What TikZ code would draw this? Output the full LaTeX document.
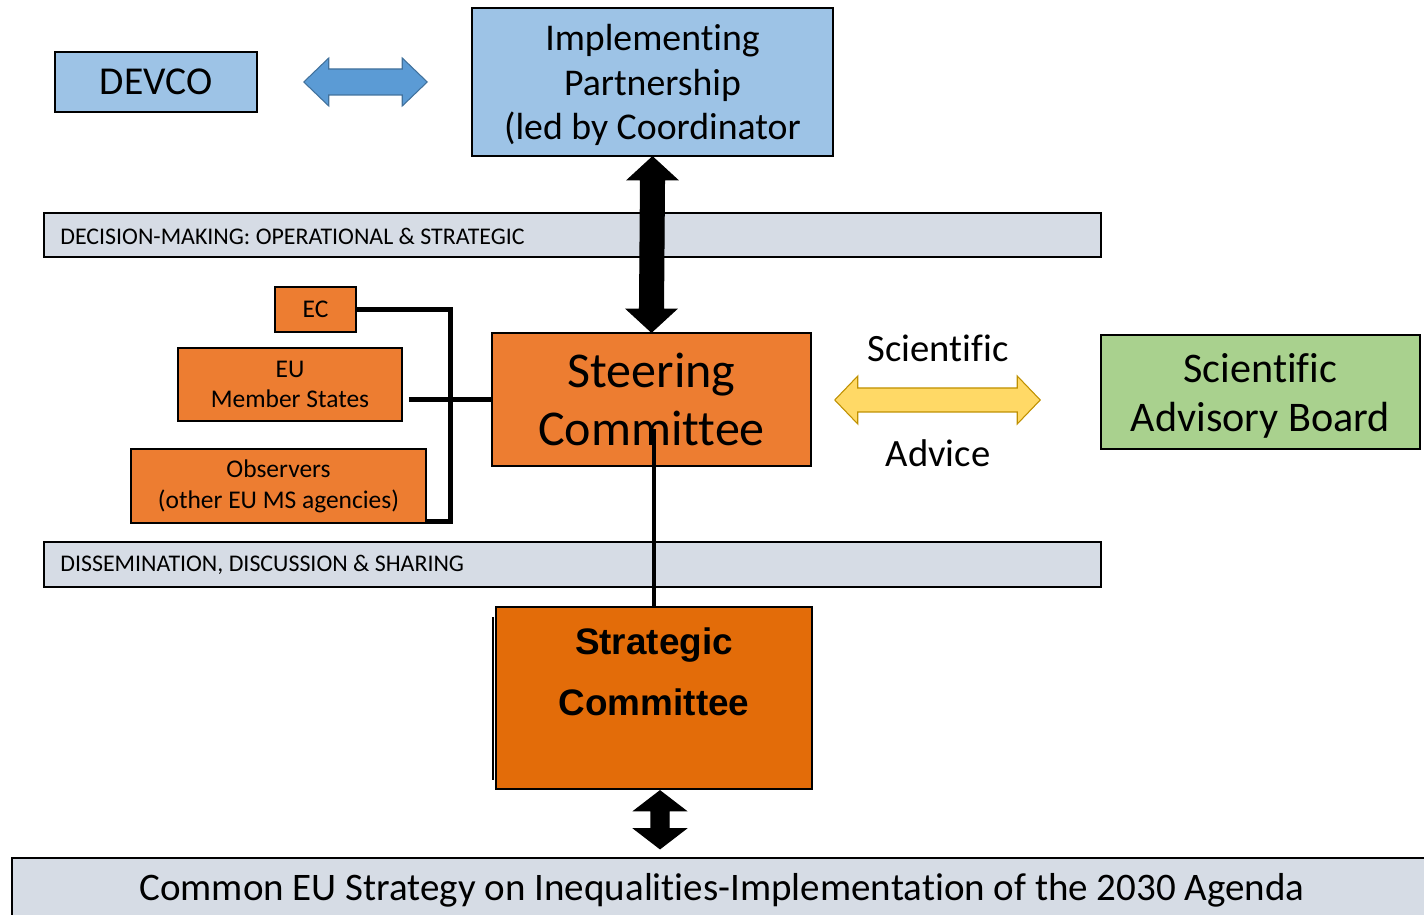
\documentclass[tikz,border=0pt]{standalone}
\usepackage{fontspec}
\setmainfont{Carlito}[Ligatures=NoCommon]
\newfontfamily\arialfont{Liberation Sans}
\usetikzlibrary{calc}
\definecolor{boxblue}{HTML}{9DC3E6}
\definecolor{arrblue}{HTML}{5B9BD5}
\definecolor{arrblueb}{HTML}{41719C}
\definecolor{bandgray}{HTML}{D6DCE5}
\definecolor{orange1}{HTML}{ED7D31}
\definecolor{orange2}{HTML}{E36C09}
\definecolor{green1}{HTML}{A9D18E}
\definecolor{yel}{HTML}{FFD966}
\definecolor{yelb}{HTML}{BF9000}
% horizontal double arrow: style, A, B, head length, head half, shaft half
\newcommand\hdarr[6]{\path[#1] (#2) -- ++(#4,-#5) -- ++(0,{#5-#6}) -- ($(#3)+(-#4,-#6)$) -- ++(0,{-(#5-#6)}) -- (#3) -- ++(-#4,#5) -- ++(0,{-(#5-#6)}) -- ($(#2)+(#4,#6)$) -- ++(0,{#5-#6}) -- cycle;}
% vertical double arrow: style, A(top), B(bottom), head length, head half, shaft half
\newcommand\vdarr[6]{\path[#1] (#2) -- ++(#5,#4) -- ++({-(#5-#6)},0) -- ($(#3)+(#6,-#4)$) -- ++({#5-#6},0) -- (#3) -- ++(-#5,-#4) -- ++({#5-#6},0) -- ($(#2)+(-#6,#4)$) -- ++({-(#5-#6)},0) -- cycle;}
\begin{document}
\begin{tikzpicture}[x=0.02cm,y=-0.02cm,
  box/.style={draw=black,line width=0.9pt,inner sep=0pt,align=center},
  band/.style={draw=black,line width=0.9pt,fill=bandgray,inner sep=0pt},
  conn/.style={line width=2.6pt,black}]
\useasboundingbox (0,0) rectangle (1424,915);
% top row
\node[box,fill=boxblue,minimum width=4.04cm,minimum height=1.2cm,font=\fontsize{22.5}{26}\selectfont] (devco) at (156,82) {DEVCO};
\node[box,fill=boxblue,minimum width=7.22cm,minimum height=2.96cm,font=\fontsize{21.5}{25.4}\selectfont] (impl) at (652.5,82) {\rule{0pt}{18.5pt}Implementing\\Partnership\\(led by Coordinator};
% bands
\node[band,minimum width=21.14cm,minimum height=0.88cm] (band1) at (572.5,235) {};
\node[anchor=west,inner sep=0pt,font=\fontsize{13.6}{16}\selectfont] (band1t) at (60,236) {DECISION-MAKING: OPERATIONAL \& STRATEGIC};
\node[band,minimum width=21.14cm,minimum height=0.9cm] (band2) at (572.5,564.5) {};
\node[anchor=west,inner sep=0pt,font=\fontsize{13.6}{16}\selectfont] (band2t) at (60,565) {DISSEMINATION, DISCUSSION \& SHARING};
% steering committee and members
\node[box,fill=orange1,minimum width=6.38cm,minimum height=2.66cm,font=\fontsize{28.5}{33}\selectfont] (steer) at (651.5,399.5) {Steering\\Committee};
\node[box,fill=orange1,minimum width=1.62cm,minimum height=0.9cm,font=\fontsize{14.5}{17.5}\selectfont] (ec) at (315.5,309.5) {EC};
\node[box,fill=orange1,minimum width=4.48cm,minimum height=1.46cm,font=\fontsize{14.5}{17.5}\selectfont] (eums) at (290,384.5) {EU\\Member States};
\node[box,fill=orange1,minimum width=5.9cm,minimum height=1.48cm,font=\fontsize{14.5}{17.5}\selectfont] (obs) at (278.5,486) {Observers\\(other EU MS agencies)};
% scientific advisory board
\node[box,fill=green1,minimum width=6.38cm,minimum height=2.28cm,font=\fontsize{24}{28}\selectfont] (sab) at (1260.5,392) {\rule{0pt}{21pt}Scientific\\Advisory Board};
\node[font=\fontsize{22}{26}\selectfont,inner sep=0pt] (sci) at (938,348) {Scientific};
\node[font=\fontsize{22}{26}\selectfont,inner sep=0pt] (adv) at (938,453) {Advice};
% strategic committee
\draw[line width=0.9pt] (493,617) -- (493,780);
\node[box,fill=orange2,minimum width=6.32cm,minimum height=3.64cm] (strat) at (654,698) {};
\node[inner sep=0pt,align=center,font=\arialfont\bfseries\fontsize{21}{34.6}\selectfont] (stratt) at (654,672) {Strategic\\Committee};
% bottom band
\node[draw=black,line width=1.3pt,fill=bandgray,minimum width=28.4cm,minimum height=1.28cm,inner sep=0pt,font=\fontsize{22.2}{26}\selectfont] (common) at (722,890) {Common EU Strategy on Inequalities-Implementation of the 2030 Agenda};
% connectors
\draw[conn] (ec.east) -| ($(obs.south east)+(24,-2)$) -- ($(obs.south east)+(0,-2)$);
\coordinate (eumsr) at ($(eums.east)+(6,0)$);
\draw[conn] (eumsr |- steer.west) -- (steer.west);
\draw[line width=2.3pt] (strat.north) -- ++(0,-177);
% arrows
\coordinate (ba) at ($(devco.east)+(46,0)$);
\coordinate (bb) at ($(impl.west)+(-44,0)$);
\hdarr{fill=arrblue,draw=arrblueb,line width=0.6pt}{ba}{bb}{25}{24}{13}
\vdarr{fill=black,draw=black,line width=0.6pt}{impl.south}{steer.north}{23}{25}{12}
\coordinate (ya) at ($(steer.east)+(23,0.5)$);
\coordinate (yb) at ($(sab.west)+(-60,8)$);
\hdarr{fill=yel,draw=yelb,line width=0.6pt}{ya}{yb}{23}{24}{12}
\coordinate (sa) at ($(strat.south)+(6,1)$);
\coordinate (sb) at ($(strat.south)+(6,59)$);
\vdarr{fill=black,draw=black,line width=0.6pt}{sa}{sb}{20}{26}{9}
\end{tikzpicture}
\end{document}
